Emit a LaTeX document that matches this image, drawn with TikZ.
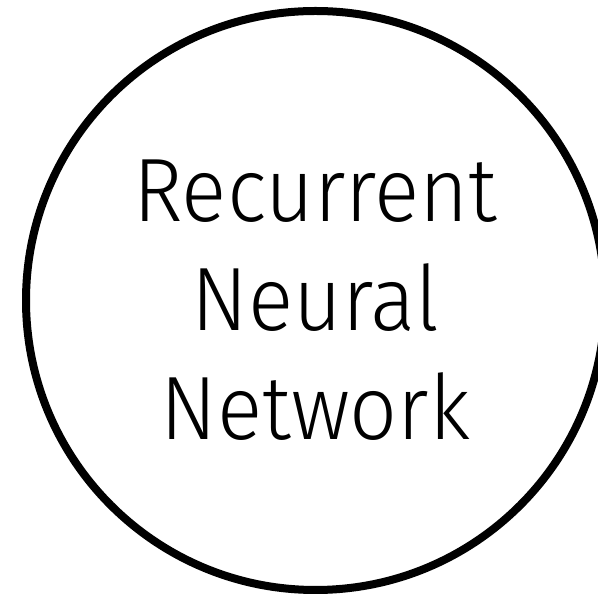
\documentclass[tikz,border=0pt]{standalone}
\usepackage{fontspec}
\newfontfamily\lightfont{Fira Sans Light}[FakeStretch=0.935]
\begin{document}
\begin{tikzpicture}[x=1pt,y=1pt,
  ring/.style={circle,draw=black,line width=8pt,minimum size=579pt,inner sep=0pt},
  label/.style={align=center,inner sep=0pt,font=\lightfont\fontsize{90}{109}\selectfont}]
\useasboundingbox (0,0) rectangle (598,597);
\node[ring] (c) at (315.5,296.5) {};
\node[label] (t) at (c.center) {Recurrent\\Neural\\Network};
\end{tikzpicture}
\end{document}
